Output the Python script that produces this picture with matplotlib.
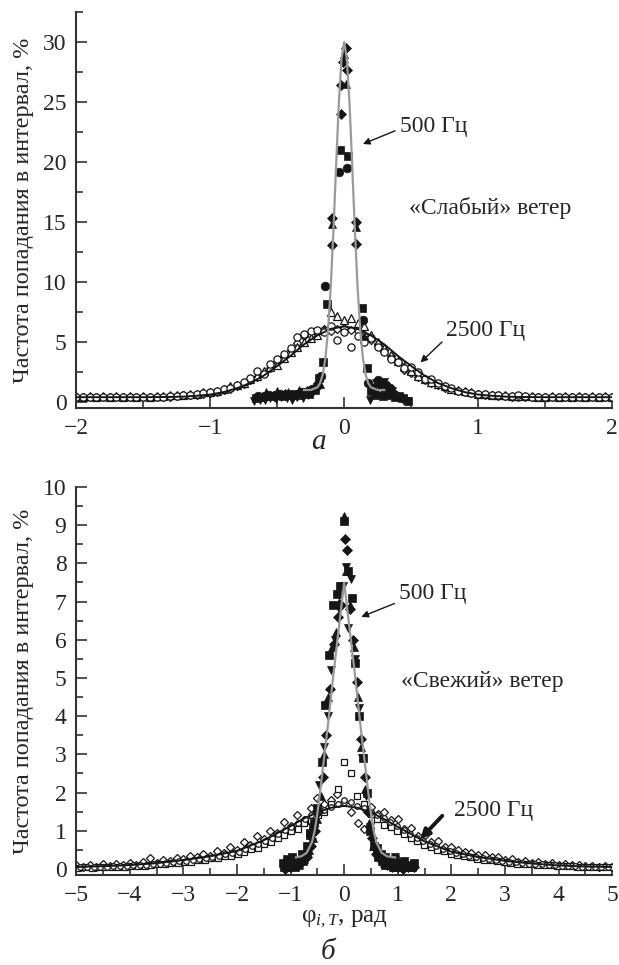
import numpy as np
import matplotlib
matplotlib.use("Agg")
import matplotlib.pyplot as plt
from matplotlib.ticker import MultipleLocator

plt.rcParams['font.family'] = ['Liberation Serif', 'DejaVu Serif']
plt.rcParams['mathtext.fontset'] = 'custom'
plt.rcParams['mathtext.rm'] = 'Liberation Serif'
plt.rcParams['mathtext.it'] = 'Liberation Serif:italic'
plt.rcParams['axes.unicode_minus'] = True

# ---------------- Panel a: "weak" wind ----------------
# 2500 Hz, open markers, common x grid
x_a_2500 = np.round(np.arange(-2.0, 2.0001, 0.05), 2)
a2500_circles = [0.45]*10 + \
    [0.45, 0.45, 0.45, 0.45, 0.50, 0.50, 0.55, 0.60, 0.65, 0.75] + \
    [0.80, 0.95, 1.05, 1.20, 1.40, 1.70, 2.00, 2.60, 2.30, 3.20] + \
    [3.60, 4.00, 4.50, 5.40, 5.70, 5.90, 6.00, 5.80, 6.30, 5.20] + \
    [5.80, 4.60, 5.50, 5.00, 5.30, 4.60, 4.20, 3.60, 3.30, 2.80] + \
    [2.90, 2.50, 1.90, 1.90, 1.60, 1.30, 1.20, 0.90, 0.85, 0.75] + \
    [0.70, 0.65, 0.60, 0.55, 0.50, 0.50, 0.60, 0.50, 0.45, 0.45] + \
    [0.45]*10 + [0.45]
a2500_triangles = [0.50, 0.45, 0.50, 0.45, 0.50, 0.45, 0.50, 0.45, 0.50, 0.45] + \
    [0.50, 0.45, 0.50, 0.50, 0.55, 0.55, 0.60, 0.65, 0.70, 0.80] + \
    [0.85, 0.90, 1.10, 1.30, 1.40, 1.60, 1.90, 2.20, 2.60, 2.90] + \
    [3.10, 3.70, 4.20, 4.60, 5.00, 5.30, 5.60, 6.00, 7.50, 7.20] + \
    [6.80, 7.00, 6.60, 6.30, 5.60, 5.00, 4.50, 3.90, 3.40, 3.00] + \
    [2.60, 2.20, 1.90, 1.70, 1.50, 1.30, 1.10, 1.00, 0.90, 0.80] + \
    [0.70, 0.65, 0.60, 0.55, 0.55, 0.50, 0.50, 0.50, 0.50, 0.45] + \
    [0.45, 0.50, 0.45, 0.50, 0.45, 0.50, 0.45, 0.50, 0.45, 0.50] + [0.45]
a2500_diamonds = [0.40]*10 + \
    [0.40, 0.40, 0.45, 0.45, 0.45, 0.50, 0.55, 0.55, 0.60, 0.70] + \
    [0.75, 0.85, 1.00, 1.10, 1.30, 1.50, 1.80, 2.10, 2.40, 2.80] + \
    [3.30, 3.80, 4.30, 4.90, 5.50, 5.60, 5.90, 6.10, 5.90, 6.10] + \
    [6.20, 6.00, 5.90, 5.60, 5.20, 4.80, 4.30, 3.80, 3.30, 2.70] + \
    [2.40, 2.10, 1.80, 1.60, 1.40, 1.20, 1.10, 0.95, 0.85, 0.75] + \
    [0.70, 0.60, 0.55, 0.50, 0.50, 0.45, 0.45, 0.45, 0.40, 0.40] + \
    [0.40]*10 + [0.40]

# 2500 Hz fit (black)
a2500_fit_x = [-2.0, -1.5, -1.3, -1.2, -1.1, -1.0, -0.9, -0.8, -0.7, -0.6, -0.5, -0.4, -0.3,
               -0.2, -0.1, 0.0, 0.1, 0.2, 0.3, 0.4, 0.5, 0.6, 0.7, 0.8, 0.9, 1.0, 1.1,
               1.2, 1.3, 1.5, 2.0]
a2500_fit_y = [0.40, 0.40, 0.42, 0.45, 0.52, 0.62, 0.82, 1.15, 1.58, 2.20, 3.00, 3.85, 4.80,
               5.55, 6.10, 6.30, 6.10, 5.55, 4.80, 3.85, 3.00, 2.20, 1.58, 1.15, 0.82, 0.62,
               0.52, 0.45, 0.42, 0.40, 0.40]

# 500 Hz, filled markers
a500_sq_x = [-0.66, -0.62, -0.58, -0.54, -0.50, -0.46, -0.42, -0.38, -0.34, -0.30,
             -0.26, -0.22, -0.19, -0.16, -0.13, -0.03, 0.03, 0.13, 0.17, 0.20,
             0.23, 0.26, 0.29, 0.32, 0.35, 0.38, 0.41, 0.44, 0.48]
a500_sq_y = [0.30, 0.40, 0.50, 0.50, 0.60, 0.50, 0.60, 0.70, 0.60, 0.80,
             0.70, 1.00, 2.00, 3.30, 8.20, 21.0, 20.5, 7.80, 2.80, 0.90,
             0.60, 1.50, 0.50, 0.80, 0.60, 0.40, 0.50, 0.30, 0.10]
a500_ci_x = [-0.64, -0.56, -0.48, -0.40, -0.32, -0.24, -0.20, -0.17, -0.14, -0.04,
             0.02, 0.14, 0.18, 0.22, 0.25, 0.28, 0.31, 0.34, 0.37]
a500_ci_y = [0.50, 0.60, 0.70, 0.60, 0.80, 1.10, 1.40, 2.20, 9.70, 19.2,
             19.5, 6.80, 1.60, 0.80, 1.80, 1.60, 1.40, 1.20, 0.70]
a500_di_x = [-0.60, -0.52, -0.44, -0.36, -0.28, -0.21, -0.09, -0.09, -0.02, -0.02,
             -0.01, 0.01, 0.02, 0.09, 0.09, 0.21, 0.27, 0.33]
a500_di_y = [0.40, 0.50, 0.70, 0.60, 0.90, 1.20, 15.3, 13.1, 26.4, 24.0,
             28.3, 29.5, 27.7, 15.0, 13.2, 1.00, 1.40, 1.10]
a500_tr_x = [-0.58, -0.50, -0.42, -0.34, -0.26, -0.18, -0.09, 0.00, 0.01, 0.09,
             0.15, 0.24, 0.30, 0.36]
a500_tr_y = [0.80, 0.90, 0.80, 1.00, 1.00, 1.50, 14.8, 29.0, 26.5, 14.6,
             5.50, 1.70, 1.20, 0.90]
a500_td_x = [-0.67, -0.63, -0.59, -0.55, -0.51, -0.47, -0.43, -0.39, -0.35, -0.31,
             -0.27, -0.23, 0.19, 0.21, 0.24, 0.27, 0.30, 0.33, 0.36, 0.40,
             0.44, 0.47]
a500_td_y = [0.10, 0.20, 0.15, 0.30, 0.25, 0.40, 0.30, 0.20, 0.45, 0.35,
             0.60, 0.80, 0.20, 1.20, 1.60, 1.30, 1.70, 1.00, 0.90, 0.30,
             0.20, 0.05]

# 500 Hz fit (gray)
a500_fit_x = [-0.30, -0.25, -0.20, -0.18, -0.16, -0.14, -0.12, -0.10, -0.08, -0.06, -0.04,
              -0.02, 0.00, 0.02, 0.04, 0.06, 0.08, 0.10, 0.12, 0.14, 0.16, 0.18, 0.20,
              0.25, 0.30]
a500_fit_y = [1.00, 1.00, 1.22, 1.56, 2.27, 3.65, 6.00, 9.60, 14.3, 19.7, 24.9,
              28.6, 30.0, 28.6, 24.9, 19.7, 14.3, 9.60, 6.00, 3.65, 2.27, 1.56, 1.22,
              1.00, 1.00]

# ---------------- Panel б: "fresh" wind ----------------
x_b_2500 = np.round(np.arange(-5.0, 5.0001, 0.125), 3)
x_b_2500_sq = np.round(np.linspace(-4.96, 4.96, 81), 3)
x_b_2500_ci = np.round(np.linspace(-4.92, 4.92, 81), 3)
b2500_diamonds = [0.09, 0.05, 0.10, 0.06, 0.12, 0.07, 0.13, 0.09, 0.16, 0.10,
                  0.19, 0.28, 0.15, 0.24, 0.20, 0.29, 0.25, 0.34, 0.30, 0.40,
                  0.35, 0.48, 0.42, 0.58, 0.50, 0.70, 0.62, 0.85, 0.78, 1.00,
                  0.95, 1.22, 1.12, 1.40, 1.28, 1.60, 1.85, 1.70, 1.80, 1.95,
                  1.75, 1.50, 1.20, 1.05, 1.62, 1.45, 1.50, 1.28, 1.30, 1.05,
                  1.08, 0.86, 0.88, 0.70, 0.72, 0.58, 0.58, 0.50, 0.45, 0.42,
                  0.36, 0.36, 0.30, 0.30, 0.24, 0.25, 0.19, 0.21, 0.16, 0.17,
                  0.13, 0.15, 0.10, 0.12, 0.09, 0.10, 0.07, 0.08, 0.06, 0.07,
                  0.06]
b2500_squares = [0.03, 0.04, 0.03, 0.05, 0.04, 0.05, 0.05, 0.06, 0.07, 0.08,
                 0.08, 0.10, 0.12, 0.12, 0.15, 0.15, 0.19, 0.18, 0.23, 0.23,
                 0.28, 0.28, 0.34, 0.34, 0.40, 0.44, 0.52, 0.56, 0.66, 0.70,
                 0.82, 0.88, 1.00, 1.05, 1.20, 1.25, 1.40, 1.50, 1.70, 2.10,
                 2.80, 2.50, 1.90, 1.70, 1.45, 1.30, 1.15, 1.10, 0.98, 0.92,
                 0.80, 0.74, 0.63, 0.58, 0.50, 0.46, 0.40, 0.36, 0.33, 0.30,
                 0.27, 0.24, 0.22, 0.20, 0.18, 0.16, 0.14, 0.13, 0.12, 0.10,
                 0.10, 0.09, 0.08, 0.07, 0.07, 0.06, 0.05, 0.05, 0.04, 0.04,
                 0.04]
b2500_circles = [0.05, 0.05, 0.05, 0.06, 0.06, 0.07, 0.07, 0.08, 0.09, 0.10,
                 0.11, 0.13, 0.14, 0.16, 0.18, 0.20, 0.21, 0.24, 0.27, 0.29,
                 0.32, 0.35, 0.38, 0.42, 0.45, 0.52, 0.59, 0.66, 0.73, 0.82,
                 0.91, 1.01, 1.10, 1.20, 1.30, 1.40, 1.48, 1.55, 1.62, 1.70,
                 1.80, 1.75, 1.65, 1.60, 1.50, 1.40, 1.32, 1.22, 1.12, 1.02,
                 0.92, 0.82, 0.73, 0.66, 0.59, 0.52, 0.46, 0.42, 0.38, 0.34,
                 0.31, 0.28, 0.26, 0.23, 0.21, 0.19, 0.17, 0.15, 0.14, 0.13,
                 0.12, 0.11, 0.09, 0.08, 0.08, 0.07, 0.06, 0.06, 0.05, 0.05,
                 0.05]
b2500_fit_x = [-5.0, -4.5, -4.0, -3.5, -3.0, -2.5, -2.0, -1.5, -1.0, -0.75, -0.5, -0.25,
               0.0, 0.25, 0.5, 0.75, 1.0, 1.5, 2.0, 2.5, 3.0, 3.5, 4.0, 4.5, 5.0]
b2500_fit_y = [0.05, 0.07, 0.10, 0.15, 0.23, 0.33, 0.47, 0.75, 1.12, 1.32, 1.48, 1.60,
               1.65, 1.60, 1.48, 1.30, 1.10, 0.72, 0.45, 0.31, 0.21, 0.14, 0.09, 0.06, 0.05]

b500_sq_x = [-1.12, -1.05, -0.98, -0.91, -0.84, -0.77, -0.70, -0.63, -0.56, -0.50,
             -0.42, -0.35, -0.28, -0.21, -0.14, -0.07, 0.00, 0.07, 0.14, 0.21,
             0.28, 0.35, 0.42, 0.49, 0.56, 0.63, 0.70, 0.77, 0.84, 0.91,
             0.98, 1.05, 1.12, 1.19, 1.26]
b500_sq_y = [0.05, 0.05, 0.10, 0.05, 0.15, 0.20, 0.40, 0.90, 1.20, 1.60,
             2.80, 4.30, 5.60, 6.90, 7.20, 7.40, 9.10, 7.80, 7.10, 5.40,
             4.00, 2.90, 2.00, 1.00, 0.60, 0.35, 0.20, 0.10, 0.10, 0.05,
             0.10, 0.05, 0.05, 0.05, 0.05]
b500_di_x = [-1.10, -1.00, -0.90, -0.80, -0.70, -0.62, -0.55, -0.48, -0.40, -0.33,
             -0.26, -0.19, -0.12, -0.05, 0.02, 0.06, 0.10, 0.17, 0.24, 0.31,
             0.38, 0.45, 0.52, 0.60, 0.70, 0.80, 0.90, 1.00, 1.10, 1.20, 1.30]
b500_di_y = [0.00, 0.05, 0.10, 0.20, 0.30, 0.60, 1.00, 1.50, 2.40, 3.50,
             4.70, 5.90, 6.60, 6.90, 8.65, 8.35, 6.80, 6.00, 4.90, 3.40,
             2.40, 1.50, 0.80, 0.40, 0.20, 0.10, 0.05, 0.05, 0.00, 0.05, 0.05]
b500_tu_x = [-1.08, -0.95, -0.85, -0.75, -0.66, -0.58, -0.51, -0.44, -0.37, -0.30,
             -0.23, -0.16, -0.09, 0.00, 0.04, 0.11, 0.18, 0.25, 0.32, 0.39,
             0.46, 0.54, 0.64, 0.75, 0.85, 0.95, 1.05, 1.15, 1.25]
b500_tu_y = [0.05, 0.10, 0.10, 0.25, 0.50, 0.80, 1.30, 1.90, 3.00, 4.50,
             5.80, 6.20, 7.00, 9.25, 7.80, 6.90, 5.80, 4.50, 3.20, 2.10,
             1.20, 0.60, 0.30, 0.15, 0.10, 0.05, 0.10, 0.05, 0.05]
b500_td_x = [-1.02, -0.88, -0.72, -0.60, -0.47, -0.38, -0.31, -0.24, -0.17, -0.10,
             -0.03, 0.03, 0.08, 0.12, 0.20, 0.27, 0.34, 0.41, 0.48, 0.58,
             0.70, 0.82, 0.95, 1.08, 1.20]
b500_td_y = [0.05, 0.10, 0.30, 0.70, 2.20, 3.20, 4.00, 5.20, 6.00, 6.80,
             7.40, 7.90, 6.30, 7.60, 5.50, 4.20, 2.90, 1.90, 1.10, 0.50,
             0.25, 0.10, 0.30, 0.15, 0.05]
b500_ex_x = [-1.15, -1.06, -0.97, -0.88, -0.79, -0.70, -0.64, -0.58, 0.62, 0.68,
             0.76, 0.85, 0.94, 1.03, 1.12, 1.22, 1.30]
b500_ex_y = [0.15, 0.25, 0.30, 0.20, 0.40, 0.60, 0.95, 1.10, 0.55, 0.40,
             0.30, 0.20, 0.25, 0.15, 0.20, 0.10, 0.15]
b500_fit_x = [-0.90, -0.80, -0.70, -0.60, -0.55, -0.50, -0.45, -0.40, -0.30, -0.20, -0.10,
              0.00, 0.10, 0.20, 0.30, 0.40, 0.45, 0.50, 0.55, 0.60, 0.70, 0.80, 0.95]
b500_fit_y = [0.30, 0.33, 0.42, 0.70, 1.00, 1.45, 2.00, 2.60, 3.80, 5.10, 6.30,
              7.50, 6.30, 5.10, 3.80, 2.60, 2.00, 1.45, 1.00, 0.70, 0.42, 0.33, 0.30]

# ---------------- drawing ----------------
INK = '#161616'
AX = '#333333'
GRAY = '#9a9a9a'
TC = '#262626'
FS = 17

fig = plt.figure(figsize=(6.19, 9.65), dpi=100)
ax1 = fig.add_axes([0.123, 1 - 408 / 965, 0.866, (408 - 12) / 965])
ax2 = fig.add_axes([0.123, 1 - 875 / 965, 0.866, (875 - 487) / 965])


def open_pts(ax, x, y, m, ms):
    ax.plot(x, y, ls='none', marker=m, ms=ms, mfc='white', mec=INK, mew=0.9, zorder=2)


def filled_pts(ax, x, y, m, ms):
    ax.plot(x, y, ls='none', marker=m, ms=ms, mfc=INK, mec=INK, mew=0.5, zorder=4)


# panel a
open_pts(ax1, x_a_2500, a2500_diamonds, 'D', 4.2)
open_pts(ax1, x_a_2500, a2500_triangles, '^', 5.2)
open_pts(ax1, x_a_2500, a2500_circles, 'o', 5.2)
ax1.plot(a2500_fit_x, a2500_fit_y, color=INK, lw=1.4, zorder=3)
filled_pts(ax1, a500_sq_x, a500_sq_y, 's', 5.8)
filled_pts(ax1, a500_ci_x, a500_ci_y, 'o', 6.2)
filled_pts(ax1, a500_di_x, a500_di_y, 'D', 5.2)
filled_pts(ax1, a500_tr_x, a500_tr_y, '^', 5.8)
filled_pts(ax1, a500_td_x, a500_td_y, 'v', 5.8)
ax1.plot(a500_fit_x, a500_fit_y, color=GRAY, lw=1.6, zorder=5)

# panel b
open_pts(ax2, x_b_2500, b2500_diamonds, 'D', 3.6)
open_pts(ax2, x_b_2500_sq, b2500_squares, 's', 3.8)
open_pts(ax2, x_b_2500_ci, b2500_circles, 'o', 4.0)
ax2.plot(b2500_fit_x, b2500_fit_y, color=INK, lw=1.4, zorder=3)
filled_pts(ax2, b500_sq_x, b500_sq_y, 's', 5.4)
filled_pts(ax2, b500_di_x, b500_di_y, 'D', 4.8)
filled_pts(ax2, b500_tu_x, b500_tu_y, '^', 5.6)
filled_pts(ax2, b500_td_x, b500_td_y, 'v', 5.6)
filled_pts(ax2, b500_ex_x, b500_ex_y, 's', 5.4)
ax2.plot(b500_fit_x, b500_fit_y, color=GRAY, lw=1.6, zorder=5)

for ax in (ax1, ax2):
    for s in ('top', 'right'):
        ax.spines[s].set_visible(False)
    for s in ('left', 'bottom'):
        ax.spines[s].set_color(AX)
        ax.spines[s].set_linewidth(1.5)
    ax.tick_params(which='both', direction='in', colors=AX, labelsize=FS,
                   labelcolor=TC, width=1.2)
    ax.tick_params(which='major', length=8, pad=7)
    ax.tick_params(which='minor', length=5)
    ax.set_ylabel('Частота попадания в интервал, %', fontsize=17.5, color=TC,
                  labelpad=6)

ax1.set_xlim(-2, 2)
ax1.set_ylim(-0.5, 32.5)
ax1.xaxis.set_major_locator(MultipleLocator(1))
ax1.xaxis.set_minor_locator(MultipleLocator(0.5))
ax1.yaxis.set_major_locator(MultipleLocator(5))
ax1.yaxis.set_minor_locator(MultipleLocator(2.5))

ax2.set_xlim(-5, 5)
ax2.set_ylim(-0.16, 10)
ax2.xaxis.set_major_locator(MultipleLocator(1))
ax2.xaxis.set_minor_locator(MultipleLocator(0.5))
ax2.yaxis.set_major_locator(MultipleLocator(1))
ax2.yaxis.set_minor_locator(MultipleLocator(0.5))
ax2.set_xlabel('φ$_{i,T}$, рад', fontsize=18, color=TC, labelpad=2)

thin = dict(arrowstyle='-|>', lw=1.0, color=INK, mutation_scale=10, shrinkA=0, shrinkB=0)
thick = dict(arrowstyle='-|>', lw=2.8, color=INK, mutation_scale=13, shrinkA=0, shrinkB=0)

ax1.text(0.42, 23.0, '500 Гц', ha='left', va='center', fontsize=FS, color=TC)
ax1.annotate('', xy=(0.14, 21.5), xytext=(0.38, 22.6), arrowprops=thin)
ax1.text(1.09, 16.2, '«Слабый» ветер', ha='center', va='center', fontsize=FS, color=TC)
ax1.text(0.76, 6.0, '2500 Гц', ha='left', va='center', fontsize=FS, color=TC)
ax1.annotate('', xy=(0.57, 3.3), xytext=(0.73, 5.0), arrowprops=thin)

ax2.text(1.02, 7.2, '500 Гц', ha='left', va='center', fontsize=FS, color=TC)
ax2.annotate('', xy=(0.32, 6.6), xytext=(0.94, 6.95), arrowprops=thin)
ax2.text(2.57, 4.9, '«Свежий» ветер', ha='center', va='center', fontsize=FS, color=TC)
ax2.text(2.05, 1.52, '2500 Гц', ha='left', va='center', fontsize=FS, color=TC)
ax2.annotate('', xy=(1.42, 0.78), xytext=(1.83, 1.39), arrowprops=thick)

fig.text(0.515, 1 - 442 / 965, 'а', style='italic', fontsize=21, ha='center', va='center', color=TC)
fig.text(0.53, 1 - 952 / 965, 'б', style='italic', fontsize=21, ha='center', va='center', color=TC)

fig.savefig('out.png', dpi=100, facecolor='white')
